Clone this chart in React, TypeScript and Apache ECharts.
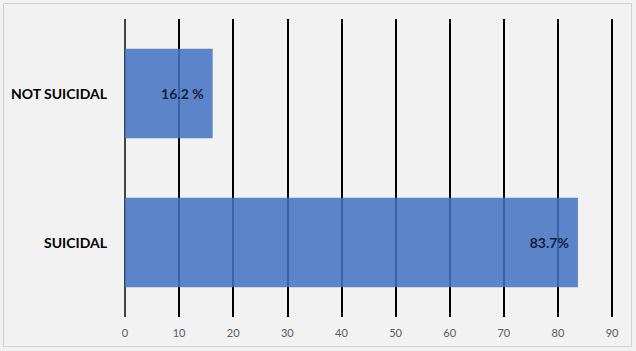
import React, { useEffect, useRef } from "react";
import * as echarts from "echarts";

const categories = ["SUICIDAL", "NOT SUICIDAL"];
const values = [83.7, 16.2];
const valueLabels = ["83.7%", "16.2 %"];
const xTicks = [0, 10, 20, 30, 40, 50, 60, 70, 80, 90];

export default function App() {
  const ref = useRef<HTMLDivElement>(null);
  useEffect(() => {
    if (!ref.current) return;
    const chart = echarts.init(ref.current, null, { renderer: "svg" });
    chart.setOption({
      animation: false,
      backgroundColor: "#f2f2f2",
      textStyle: { fontFamily: "Lato, 'Open Sans', sans-serif" },
      graphic: [
        {
          type: "rect",
          shape: { x: 3.5, y: 3.5, width: 628, height: 343 },
          style: { fill: "none", stroke: "#d0d0d0", lineWidth: 1 },
          silent: true,
        },
      ],
      grid: { left: 125, right: 24, top: 19, bottom: 34 },
      xAxis: {
        type: "value",
        min: xTicks[0],
        max: xTicks[xTicks.length - 1],
        interval: 10,
        axisLine: { show: false },
        axisTick: { show: false },
        axisLabel: { color: "#595959", fontSize: 11, margin: 10 },
        splitLine: {
          show: true,
          lineStyle: {
            color: ["#444444", "#000", "#000", "#000", "#000", "#000", "#000", "#000", "#000", "#000"],
            width: 2,
          },
        },
      },
      yAxis: {
        type: "category",
        data: categories,
        axisLine: { show: false },
        axisTick: { show: false },
        axisLabel: { color: "#000", fontWeight: "bold", fontSize: 14, margin: 18 },
      },
      series: [
        {
          type: "bar",
          data: values,
          barCategoryGap: "40%",
          itemStyle: { color: "#4472c4", opacity: 0.86 },
          label: {
            show: true,
            position: "insideRight",
            distance: 9,
            color: "#0a0a1a",
            fontWeight: "bold",
            fontSize: 14,
            formatter: (p: any) => valueLabels[p.dataIndex],
          },
        },
      ],
    });
    return () => chart.dispose();
  }, []);
  return (
    <div
      ref={ref}
      style={{ position: "absolute", left: 0, top: 0, width: 636, height: 351 }}
    />
  );
}
